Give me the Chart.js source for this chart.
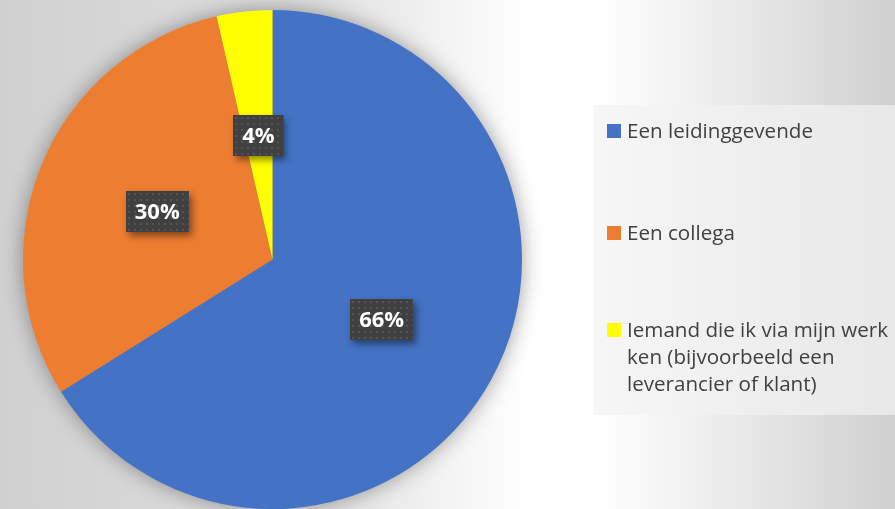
<!DOCTYPE html>
<html>
<head>
<meta charset="utf-8">
<script src="https://cdn.jsdelivr.net/npm/chart.js@4.4.1/dist/chart.umd.min.js"></script>
<style>
  html, body { margin: 0; padding: 0; }
  body {
    width: 895px; height: 509px; overflow: hidden; position: relative;
    background: linear-gradient(90deg, #d0d0d0 0%, #e0e0e0 35%, #ffffff 59%, #ffffff 67%, #e4e4e4 86%, #d0d0d0 100%);
  }
  #wrap { position: absolute; left: 0; top: 0; width: 895px; height: 509px; }
  #legend {
    position: absolute; left: 594px; top: 105px; width: 301px; height: 310px;
    background: rgba(242,242,242,0.7);
    font-family: "Open Sans", sans-serif; font-size: 20.6px; color: #404040;
  }
  .item { position: absolute; left: 13px; right: 0; line-height: 27px; padding-left: 20px; }
  .item span.box { position: absolute; left: 0; top: 7px; width: 14px; height: 14px; }
</style>
</head>
<body>
<div id="wrap"><canvas id="myChart"></canvas></div>
<div id="legend"></div>
<script>
// data
const labels = ['Een leidinggevende', 'Een collega', 'Iemand die ik via mijn werk ken (bijvoorbeeld een leverancier of klant)'];
const values = [66.1, 30.3, 3.6];
const colors = ['#4472C4', '#ED7D31', '#FFFF00'];
const legendTops = [12, 114, 211];

// soft shadow behind the pie
const pieShadow = {
  id: 'pieShadow',
  beforeDatasetsDraw(chart) {
    const arc = chart.getDatasetMeta(0).data[0];
    const ctx = chart.ctx;
    ctx.save();
    ctx.shadowColor = 'rgba(0,0,0,0.4)';
    ctx.shadowBlur = 22;
    ctx.fillStyle = '#888';
    ctx.beginPath();
    ctx.arc(arc.x, arc.y, arc.outerRadius - 1, 0, Math.PI * 2);
    ctx.fill();
    ctx.restore();
  }
};

// dotted dark label boxes
function dotPattern(ctx) {
  const c = document.createElement('canvas');
  c.width = 6; c.height = 6;
  const p = c.getContext('2d');
  p.fillStyle = '#404040';
  p.fillRect(0, 0, 6, 6);
  p.fillStyle = '#545454';
  p.fillRect(2, 2, 2, 2);
  return ctx.createPattern(c, 'repeat');
}

const boxLabels = {
  id: 'boxLabels',
  afterDatasetsDraw(chart) {
    const ctx = chart.ctx;
    const pat = dotPattern(ctx);
    const total = values.reduce((a, b) => a + b, 0);
    chart.getDatasetMeta(0).data.forEach((arc, i) => {
      const pt = arc.tooltipPosition();
      const txt = Math.round(values[i] / total * 100) + '%';
      ctx.save();
      ctx.font = 'bold 22px "Open Sans", sans-serif';
      const w = ctx.measureText(txt).width + 18;
      const h = 41;
      const x = Math.round(pt.x - w / 2), y = Math.round(pt.y - h / 2);
      ctx.shadowColor = 'rgba(0,0,0,0.45)';
      ctx.shadowBlur = 7;
      ctx.shadowOffsetX = 3;
      ctx.shadowOffsetY = 4;
      ctx.fillStyle = '#404040';
      ctx.fillRect(x, y, w, h);
      ctx.shadowColor = 'transparent';
      ctx.save();
      ctx.translate(x, y);
      ctx.fillStyle = pat;
      ctx.fillRect(0, 0, w, h);
      ctx.restore();
      ctx.fillStyle = '#ffffff';
      ctx.textAlign = 'center';
      ctx.textBaseline = 'middle';
      ctx.fillText(txt, pt.x, pt.y + 1);
      ctx.restore();
    });
  }
};

const chart = new Chart(document.getElementById('myChart'), {
  type: 'pie',
  data: {
    labels: labels,
    datasets: [{ data: values, backgroundColor: colors, borderWidth: 0 }]
  },
  options: {
    responsive: true,
    maintainAspectRatio: false,
    animation: false,
    layout: { padding: { left: 22, right: 372, top: 10, bottom: 0 } },
    plugins: { legend: { display: false }, tooltip: { enabled: false } }
  },
  plugins: [pieShadow, boxLabels]
});

// legend with wrapped text
const legend = document.getElementById('legend');
labels.forEach((lab, i) => {
  const d = document.createElement('div');
  d.className = 'item';
  d.style.top = legendTops[i] + 'px';
  d.innerHTML = '<span class="box" style="background:' + colors[i] + '"></span>' + lab;
  legend.appendChild(d);
});
</script>
</body>
</html>
